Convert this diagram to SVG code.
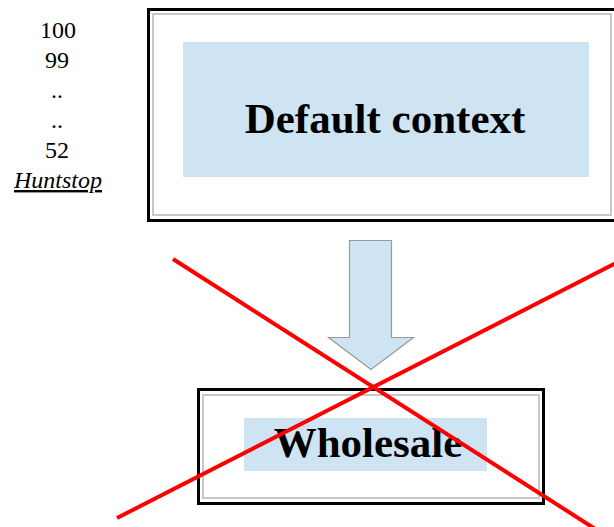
<svg xmlns="http://www.w3.org/2000/svg" width="614" height="527" viewBox="0 0 614 527">
<style>
.num{font-family:"Liberation Serif","Times New Roman",serif;font-size:24px;fill:#000;text-anchor:middle}
.title{font-family:"Liberation Serif","Times New Roman",serif;font-size:43px;font-weight:bold;fill:#000;text-anchor:middle}
.outer{fill:#fff;stroke:#000;stroke-width:3}
.inner{fill:none;stroke:#c8c8c8;stroke-width:2}
.fill{fill:#cfe4f2}
.cross{stroke:#ff0000;stroke-width:4;fill:none}
</style>
<rect width="614" height="527" fill="#fff"/>
<g id="hunt-list">
<text class="num" x="58" y="38">100</text>
<text class="num" x="57" y="68">99</text>
<text class="num" x="57" y="98">..</text>
<text class="num" x="57" y="128">..</text>
<text class="num" x="57" y="158">52</text>
<text class="num" x="58" y="188" font-size="25" font-style="italic" text-decoration="underline">Huntstop</text>
</g>
<g id="default-context">
<rect class="outer" x="148.5" y="9.5" width="470" height="211"/>
<rect class="inner" x="153" y="14" width="458" height="201"/>
<rect class="fill" x="183" y="42" width="406" height="135"/>
<text class="title" x="385" y="133">Default context</text>
</g>
<g id="connectors">
<path d="M349.5,240.5 H391.5 V337.5 H413.5 L371,369.5 L328.5,337.5 H349.5 Z" fill="#cfe4f2" stroke="#999" stroke-width="1.2"/>
</g>
<g id="wholesale">
<rect class="outer" x="198.5" y="389.5" width="345" height="114"/>
<rect class="inner" x="203" y="395" width="336" height="103"/>
<rect class="fill" x="244" y="418" width="243" height="53"/>
<text class="title" x="368" y="457">Wholesale</text>
</g>
<g id="cross">
<line class="cross" x1="173" y1="259" x2="600" y2="532"/>
<line class="cross" x1="117" y1="518" x2="620" y2="261"/>
</g>
</svg>
